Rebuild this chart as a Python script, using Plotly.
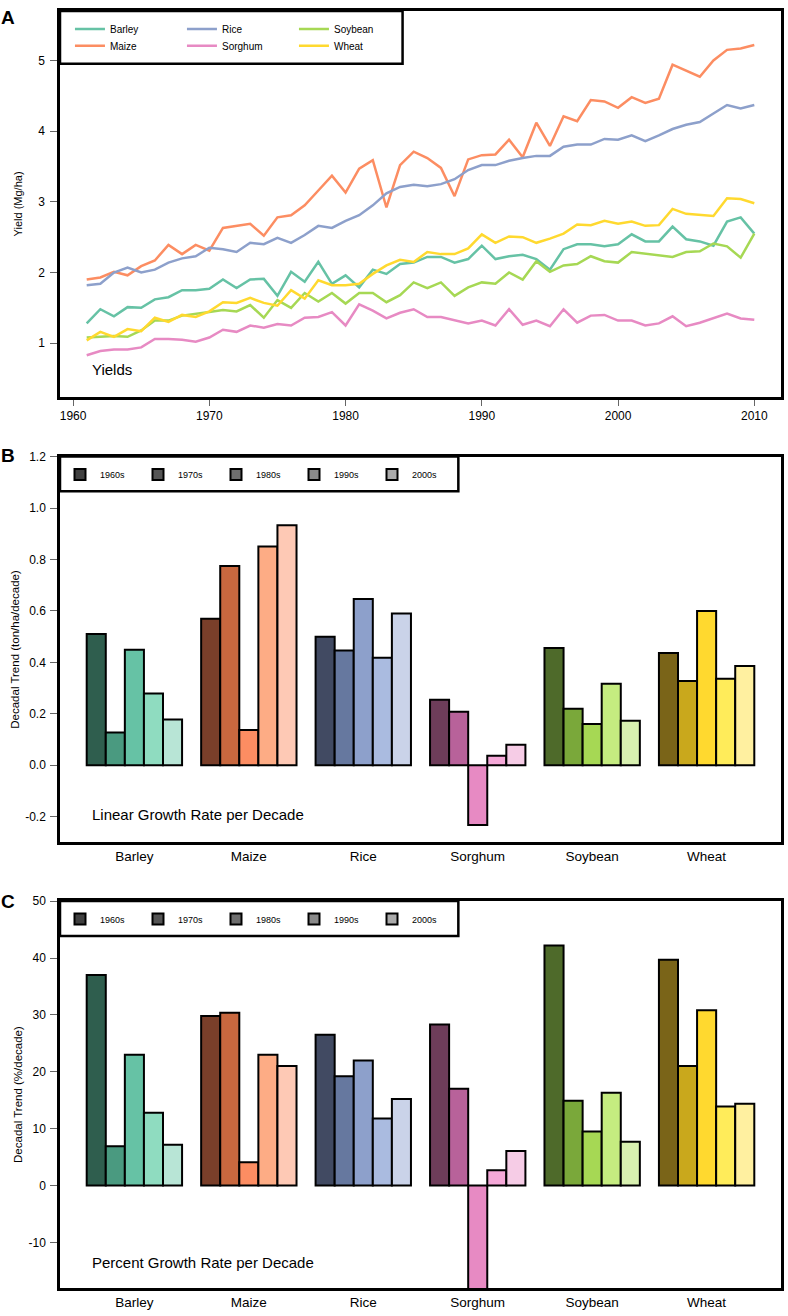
import plotly.graph_objects as go

# ---------------- data ----------------
years = list(range(1961, 2011))
barley = [1.28, 1.48, 1.38, 1.51, 1.50, 1.62, 1.65, 1.75, 1.75, 1.77,
          1.90, 1.78, 1.90, 1.91, 1.67, 2.01, 1.87, 2.15, 1.84, 1.96,
          1.79, 2.04, 1.98, 2.12, 2.14, 2.22, 2.22, 2.14, 2.19, 2.38,
          2.19, 2.23, 2.25, 2.19, 2.04, 2.33, 2.40, 2.40, 2.37, 2.40,
          2.54, 2.44, 2.44, 2.65, 2.47, 2.44, 2.38, 2.72, 2.78, 2.55]
maize = [1.90, 1.93, 2.01, 1.96, 2.09, 2.17, 2.39, 2.26, 2.39, 2.31,
         2.63, 2.66, 2.69, 2.52, 2.78, 2.81, 2.95, 3.16, 3.37, 3.13,
         3.47, 3.59, 2.92, 3.52, 3.71, 3.62, 3.48, 3.08, 3.60, 3.66,
         3.67, 3.88, 3.63, 4.12, 3.79, 4.21, 4.14, 4.44, 4.42, 4.33,
         4.48, 4.40, 4.46, 4.94, 4.86, 4.77, 5.00, 5.15, 5.17, 5.22]
rice = [1.82, 1.84, 2.00, 2.07, 2.00, 2.04, 2.14, 2.20, 2.23, 2.35,
        2.33, 2.29, 2.42, 2.40, 2.49, 2.42, 2.53, 2.66, 2.63, 2.73,
        2.81, 2.95, 3.12, 3.21, 3.24, 3.22, 3.25, 3.32, 3.45, 3.52,
        3.52, 3.58, 3.62, 3.65, 3.65, 3.78, 3.81, 3.81, 3.89, 3.88,
        3.94, 3.86, 3.94, 4.03, 4.09, 4.13, 4.25, 4.37, 4.32, 4.37]
sorghum = [0.83, 0.89, 0.91, 0.91, 0.94, 1.06, 1.06, 1.05, 1.02, 1.08,
           1.19, 1.16, 1.25, 1.22, 1.27, 1.25, 1.36, 1.37, 1.44, 1.25,
           1.55, 1.46, 1.35, 1.43, 1.48, 1.37, 1.37, 1.32, 1.28, 1.32,
           1.25, 1.48, 1.26, 1.32, 1.24, 1.48, 1.29, 1.39, 1.40, 1.32,
           1.32, 1.25, 1.28, 1.38, 1.24, 1.29, 1.36, 1.42, 1.35, 1.33]
soybean = [1.08, 1.09, 1.10, 1.09, 1.18, 1.32, 1.32, 1.39, 1.41, 1.44,
           1.47, 1.45, 1.54, 1.36, 1.61, 1.50, 1.71, 1.59, 1.71, 1.56,
           1.71, 1.71, 1.58, 1.68, 1.86, 1.78, 1.86, 1.67, 1.79, 1.86,
           1.84, 2.00, 1.90, 2.16, 2.01, 2.10, 2.12, 2.23, 2.16, 2.14,
           2.29, 2.27, 2.25, 2.22, 2.29, 2.30, 2.41, 2.37, 2.21, 2.55]
wheat = [1.04, 1.16, 1.09, 1.20, 1.17, 1.36, 1.30, 1.40, 1.37, 1.45,
         1.58, 1.57, 1.64, 1.57, 1.53, 1.75, 1.63, 1.89, 1.82, 1.82,
         1.84, 1.98, 2.10, 2.18, 2.15, 2.29, 2.26, 2.26, 2.34, 2.54,
         2.42, 2.51, 2.50, 2.42, 2.48, 2.55, 2.68, 2.67, 2.73, 2.69,
         2.72, 2.66, 2.67, 2.90, 2.83, 2.82, 2.80, 3.05, 3.04, 2.98]

crops = ["Barley", "Maize", "Rice", "Sorghum", "Soybean", "Wheat"]
decades = ["1960s", "1970s", "1980s", "1990s", "2000s"]

# linear trend (ton/ha/decade), order of crops
lin_1960s = [0.51, 0.57, 0.50, 0.255, 0.456, 0.436]
lin_1970s = [0.127, 0.775, 0.446, 0.208, 0.22, 0.328]
lin_1980s = [0.449, 0.137, 0.646, -0.232, 0.16, 0.60]
lin_1990s = [0.279, 0.85, 0.418, 0.037, 0.317, 0.336]
lin_2000s = [0.178, 0.933, 0.59, 0.08, 0.173, 0.386]

# percent trend (%/decade)
pct_1960s = [37.0, 29.8, 26.5, 28.3, 42.2, 39.7]
pct_1970s = [6.9, 30.4, 19.2, 17.0, 14.9, 21.0]
pct_1980s = [23.0, 4.1, 22.0, -20.0, 9.5, 30.8]
pct_1990s = [12.8, 23.0, 11.8, 2.7, 16.3, 13.9]
pct_2000s = [7.2, 21.0, 15.2, 6.1, 7.7, 14.4]

yield_ticks = [1, 2, 3, 4, 5]
year_ticks = [1960, 1970, 1980, 1990, 2000, 2010]
lin_ticks = [-0.2, 0.0, 0.2, 0.4, 0.6, 0.8, 1.0, 1.2]
lin_ticktext = ["-0.2", "0.0", "0.2", "0.4", "0.6", "0.8", "1.0", "1.2"]
pct_ticks = [-10, 0, 10, 20, 30, 40, 50]
pct_ticktext = ["-10", "0", "10", "20", "30", "40", "50"]

# ---------------- styles ----------------
line_colors = {"Barley": "#66c2a5", "Maize": "#fc8d62", "Rice": "#8da0cb",
               "Sorghum": "#e78ac3", "Soybean": "#a6d854", "Wheat": "#ffd92f"}
shades = {
    "Barley":  ["#2f5e4e", "#4a9a80", "#66c2a5", "#8fdcc0", "#b8e5d6"],
    "Maize":   ["#7a3f2a", "#c8683f", "#fc8d62", "#fdac85", "#fec9b5"],
    "Rice":    ["#414a62", "#66789f", "#8da0cb", "#aabbe0", "#cad3e9"],
    "Sorghum": ["#6e3d5a", "#b8629a", "#e78ac3", "#f5a8d8", "#f6cce6"],
    "Soybean": ["#4e6a2a", "#7aa83a", "#a6d854", "#c5ec80", "#d8f0b0"],
    "Wheat":   ["#7a6418", "#c9a81c", "#ffd92f", "#ffec5a", "#fff0a0"],
}
legend_grays = ["#404040", "#555555", "#6e6e6e", "#8a8a8a", "#ababab"]
FONT = "Arial, Liberation Sans, sans-serif"

fig = go.Figure()

series = [("Barley", barley), ("Maize", maize), ("Rice", rice),
          ("Sorghum", sorghum), ("Soybean", soybean), ("Wheat", wheat)]
row1 = ["Barley", "Rice", "Soybean"]
for i, (name, vals) in enumerate(series):
    fig.add_trace(go.Scatter(
        x=years, y=vals, mode="lines", name=name,
        line=dict(color=line_colors[name], width=2.5),
        xaxis="x", yaxis="y",
        legend="legend" if name in row1 else "legend4",
        legendrank=i,
    ))

lin_sets = [lin_1960s, lin_1970s, lin_1980s, lin_1990s, lin_2000s]
pct_sets = [pct_1960s, pct_1970s, pct_1980s, pct_1990s, pct_2000s]
for ax, sets in (("2", lin_sets), ("3", pct_sets)):
    for d, vals in enumerate(sets):
        fig.add_trace(go.Bar(
            x=crops, y=vals, name=decades[d], showlegend=False,
            marker=dict(color=[shades[c][d] for c in crops],
                        line=dict(color="black", width=2)),
            xaxis="x" + ax, yaxis="y" + ax,
        ))
    for d in range(5):
        fig.add_trace(go.Scatter(
            x=[None], y=[None], mode="markers", name=decades[d],
            marker=dict(symbol="square", size=11, color=legend_grays[d],
                        line=dict(color="black", width=2)),
            xaxis="x" + ax, yaxis="y" + ax,
            legend="legend2" if ax == "2" else "legend3",
        ))

H = 1284.0
def py(p):
    return (1288 - p) / H

axis_common = dict(showline=True, mirror=True, linecolor="black", linewidth=2.5,
                   showgrid=False, zeroline=False, ticks="outside", ticklen=7,
                   tickcolor="#666666", tickwidth=1,
                   tickfont=dict(family=FONT, size=12, color="black"))
cat_axis = {**axis_common, "ticks": "", "ticklen": 0,
            "tickfont": dict(family=FONT, size=13.5, color="black")}

fig.update_layout(
    width=788, height=1316,
    margin=dict(l=60, r=4, t=4, b=28),
    paper_bgcolor="white", plot_bgcolor="white",
    font=dict(family=FONT, color="black"),
    barmode="group", bargap=1/6, bargroupgap=0,
    xaxis=dict(domain=[0, 1], anchor="y", range=[1959.04, 2011.96],
               tickvals=year_ticks, **{**axis_common, "ticklen": 6}),
    yaxis=dict(domain=[py(392), py(4)], anchor="x", range=[0.24, 5.70],
               tickvals=yield_ticks, ticklabelstandoff=3,
               title=dict(text="Yield (Mg/ha)", font=dict(size=11), standoff=14),
               **axis_common),
    xaxis2=dict(domain=[0, 1], anchor="y2", range=[-0.65, 5.65], **cat_axis),
    yaxis2=dict(domain=[py(840), py(452)], anchor="x2", range=[-0.3, 1.2],
                tickvals=lin_ticks, ticktext=lin_ticktext, ticklabelstandoff=2,
                title=dict(text="Decadal Trend (ton/ha/decade)", font=dict(size=11.5), standoff=4),
                **axis_common),
    xaxis3=dict(domain=[0, 1], anchor="y3", range=[-0.65, 5.65], **cat_axis),
    yaxis3=dict(domain=[py(1288), py(899)], anchor="x3", range=[-18, 50],
                tickvals=pct_ticks, ticktext=pct_ticktext, ticklabelstandoff=2,
                title=dict(text="Decadal Trend (%/decade)", font=dict(size=11.5), standoff=4),
                **axis_common),
    legend=dict(orientation="h", x=10 / 724, xanchor="left", y=py(22), yanchor="middle",
                bgcolor="rgba(0,0,0,0)", entrywidth=67, font=dict(size=10)),
    legend4=dict(orientation="h", x=10 / 724, xanchor="left", y=py(39), yanchor="middle",
                 bgcolor="rgba(0,0,0,0)", entrywidth=67, font=dict(size=10)),
    legend2=dict(orientation="h", x=0, xanchor="left", y=py(470), yanchor="middle",
                 bgcolor="rgba(0,0,0,0)", entrywidth=33, font=dict(size=9)),
    legend3=dict(orientation="h", x=0, xanchor="left", y=py(917), yanchor="middle",
                 bgcolor="rgba(0,0,0,0)", entrywidth=33, font=dict(size=9)),
    shapes=[
        dict(type="rect", xref="paper", yref="paper", x0=0, x1=(404 - 60) / 724,
             y0=py(57), y1=py(4), line=dict(color="black", width=2.5),
             fillcolor="white", layer="above"),
        dict(type="rect", xref="paper", yref="paper", x0=0, x1=(460 - 60) / 724,
             y0=py(487), y1=py(452), line=dict(color="black", width=2.5),
             fillcolor="white", layer="above"),
        dict(type="rect", xref="paper", yref="paper", x0=0, x1=(460 - 60) / 724,
             y0=py(934), y1=py(899), line=dict(color="black", width=2.5),
             fillcolor="white", layer="above"),
    ],
    annotations=[
        dict(text="Yields", xref="x domain", yref="y domain", x=0.041, y=0.07,
             xanchor="left", yanchor="middle", showarrow=False, font=dict(size=15)),
        dict(text="Linear Growth Rate per Decade", xref="x2 domain", yref="y2 domain",
             x=0.041, y=0.072, xanchor="left", yanchor="middle", showarrow=False,
             font=dict(size=15)),
        dict(text="Percent Growth Rate per Decade", xref="x3 domain", yref="y3 domain",
             x=0.041, y=0.066, xanchor="left", yanchor="middle", showarrow=False,
             font=dict(size=15)),
        dict(text="<b>A</b>", xref="paper", yref="paper", x=(8 - 60) / 724, y=py(11),
             xanchor="center", yanchor="middle", showarrow=False, font=dict(size=19)),
        dict(text="<b>B</b>", xref="paper", yref="paper", x=(8 - 60) / 724, y=py(451),
             xanchor="center", yanchor="middle", showarrow=False, font=dict(size=19)),
        dict(text="<b>C</b>", xref="paper", yref="paper", x=(8 - 60) / 724, y=py(899),
             xanchor="center", yanchor="middle", showarrow=False, font=dict(size=19)),
    ],
)

fig.write_html("out.html", config={"displayModeBar": False},
               post_script="document.body.style.margin='0px';")
